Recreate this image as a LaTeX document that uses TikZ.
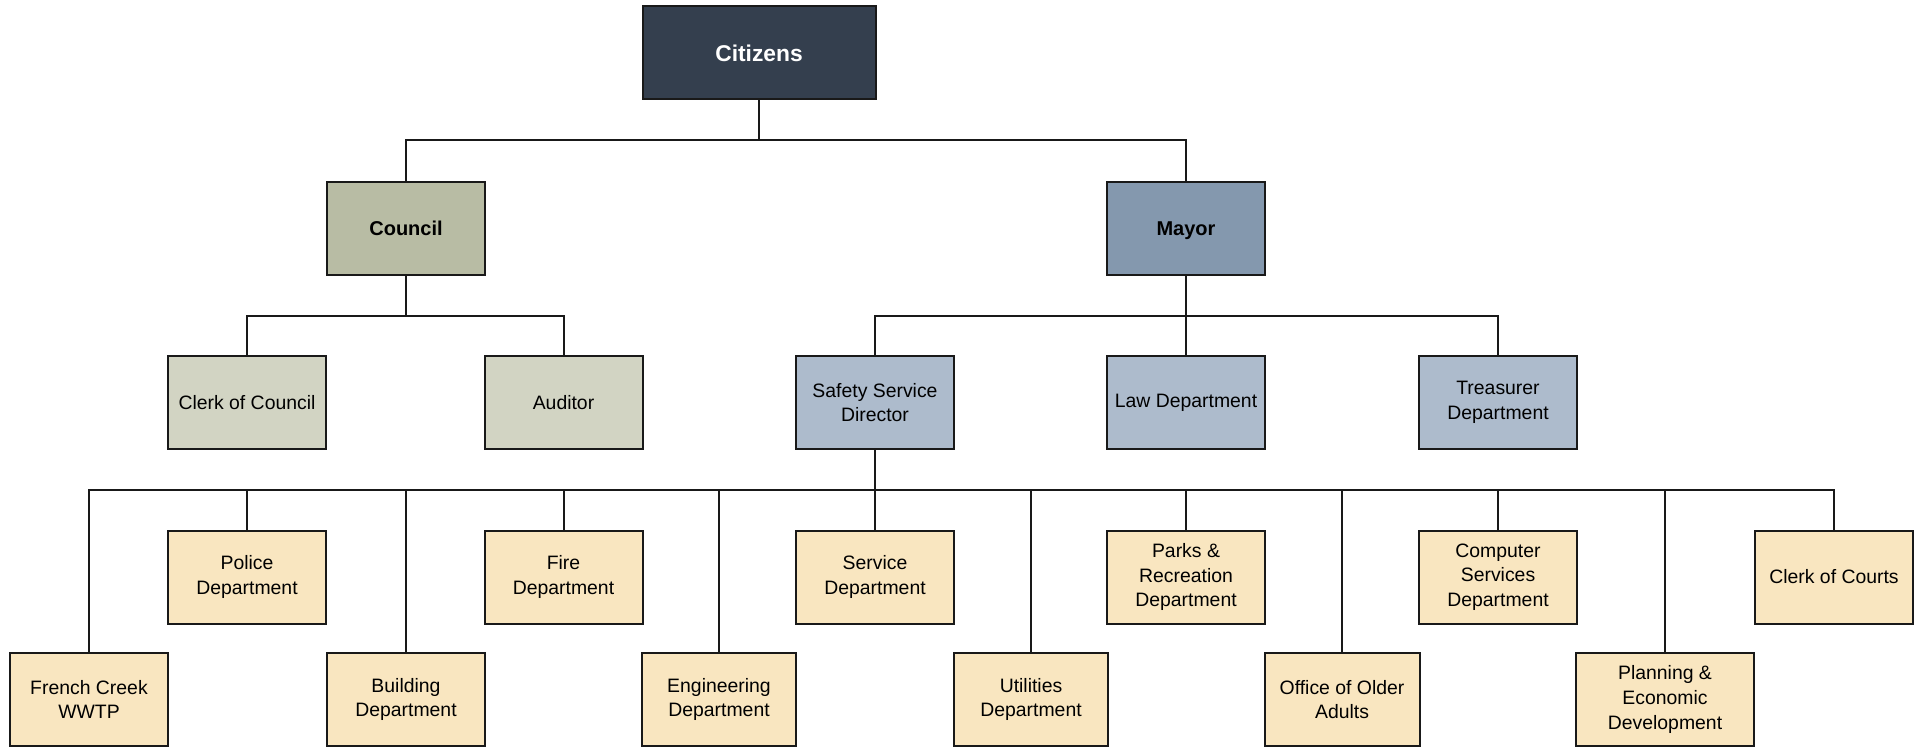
\documentclass[tikz,border=0pt]{standalone}
\usepackage{fontspec}
\setmainfont{Liberation Sans}

\definecolor{citizenfill}{HTML}{343F4E}
\definecolor{councilfill}{HTML}{B8BCA4}
\definecolor{councilsub}{HTML}{D2D4C3}
\definecolor{mayorfill}{HTML}{8498AE}
\definecolor{mayorsub}{HTML}{ADBBCC}
\definecolor{deptfill}{HTML}{F9E6C0}

\tikzset{
  box/.style={draw=black!90, line width=1pt, minimum width=79pt, minimum height=46.5pt,
    align=center, inner sep=1pt, font=\fontsize{9.7}{12.3}\selectfont},
  topbox/.style={box, fill=citizenfill, text=white, minimum width=116.5pt,
    font=\fontsize{11.4}{13}\selectfont\bfseries},
  headbox/.style={box, text height=1.6ex, text depth=0.1ex,
    font=\fontsize{10}{12}\selectfont\bfseries},
  deptbox/.style={box, fill=deptfill},
  link/.style={line width=1pt, black!90}
}

\begin{document}
\begin{tikzpicture}[x=0.5pt, y=-0.5pt]
  \useasboundingbox (0,0) rectangle (1925,749);

  % levels of the horizontal bars
  \coordinate (bar1) at (0,140);
  \coordinate (bar2) at (0,315.5);
  \coordinate (bar3) at (0,490);

  \node[topbox] (cit) at (759,53) {Citizens};

  \node[headbox, fill=councilfill] (council) at (406,228) {Council};
  \node[headbox, fill=mayorfill] (mayor) at (1186,228) {Mayor};

  \node[box, fill=councilsub] (clerkc) at (247,402.5) {Clerk of Council};
  \node[box, fill=councilsub] (auditor) at (563.5,402.5) {Auditor};
  \node[box, fill=mayorsub] (ssd) at (875,402.5) {Safety Service\\Director};
  \node[box, fill=mayorsub] (law) at (1186,402.5) {Law Department};
  \node[box, fill=mayorsub] (treas) at (1498,402.5) {Treasurer\\Department};

  % departments, upper row
  \foreach \name/\x/\txt in {police/247/{Police\\Department}, fire/563.5/{Fire\\Department},
      service/875/{Service\\Department}, parks/1186/{Parks \&\\Recreation\\Department},
      computer/1498/{Computer\\Services\\Department}, courts/1834/{Clerk of Courts}}
    {
      \node[deptbox] (\name) at (\x,577) {\txt};
    }

  % departments, lower row
  \foreach \name/\x/\w/\txt in {french/89/79/{French Creek\\WWTP}, building/406/79/{Building\\Department},
      engineering/719/77/{Engineering\\Department}, utilities/1031/77/{Utilities\\Department},
      older/1342/77.5/{Office of Older\\Adults}, planning/1665/89/{Planning \&\\Economic\\Development}}
    {
      \node[deptbox, minimum width=\w pt] (\name) at (\x,699.5) {\txt};
    }

  % connectors
  \draw[link] (cit.south) -- (cit.south |- bar1) -| (council.north);
  \draw[link] (cit.south |- bar1) -| (mayor.north);

  \draw[link] (council.south) -- (council.south |- bar2) -| (clerkc.north);
  \draw[link] (council.south |- bar2) -| (auditor.north);

  \draw[link] (mayor.south) -- (law.north);
  \draw[link] (mayor.south |- bar2) -| (ssd.north);
  \draw[link] (mayor.south |- bar2) -| (treas.north);

  \draw[link] (ssd.south) -- (ssd.south |- bar3);
  \foreach \n in {french, police, building, fire, engineering, service,
      utilities, parks, older, computer, planning, courts}
    {
      \draw[link] (ssd.south |- bar3) -| (\n.north);
    }
\end{tikzpicture}
\end{document}
